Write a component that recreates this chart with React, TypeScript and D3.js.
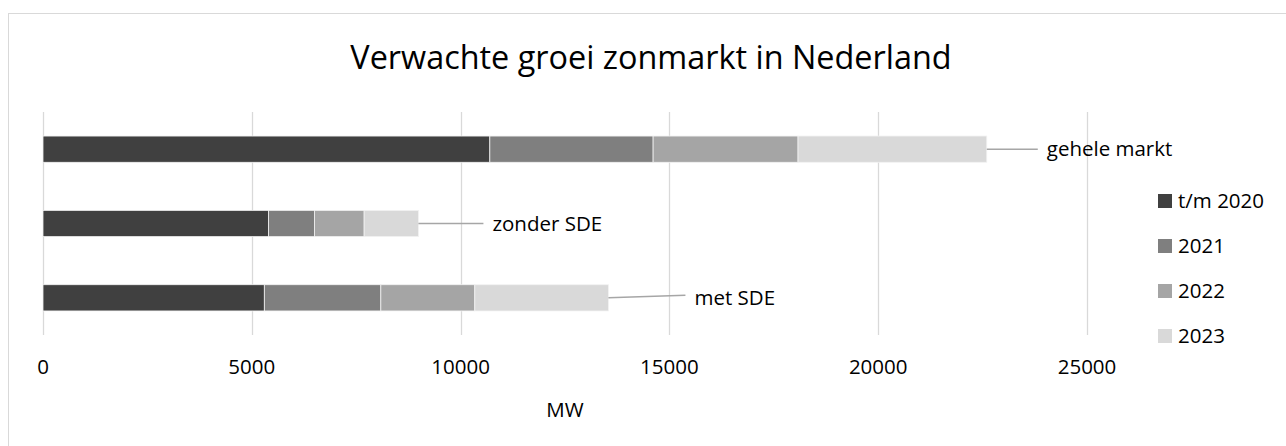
import * as d3 from "d3";
import React from "react";

// categories top to bottom
const categories = ["gehele markt", "zonder SDE", "met SDE"];
const seriesNames = ["t/m 2020", "2021", "2022", "2023"];

// MW added per period, per category
const tm2020 = [10700, 5400, 5300];
const y2021 = [3910, 1100, 2790];
const y2022 = [3470, 1190, 2250];
const y2023 = [4520, 1300, 3200];

const xTicks = [0, 5000, 10000, 15000, 20000, 25000];
const colors = ["#404040", "#7f7f7f", "#a5a5a5", "#d9d9d9"];

// distance of the manual data label from the bar end (px)
const labelGap = [60, 74, 86];

const W = 1286;
const H = 446;
const font = "'Open Sans', 'Liberation Sans', sans-serif";

const App = () => {
  const plot = { left: 43, right: 1087, top: 112, bottom: 335 };

  const x = d3.scaleLinear().domain([0, 25000]).range([plot.left, plot.right]);
  const y = d3
    .scaleBand()
    .domain(categories)
    .range([plot.top, plot.bottom])
    .paddingInner(0.647)
    .paddingOuter(0.3235);

  const rows = categories.map((c, i) => ({
    cat: c,
    "t/m 2020": tm2020[i],
    "2021": y2021[i],
    "2022": y2022[i],
    "2023": y2023[i],
  }));
  const stacked = d3.stack().keys(seriesNames)(rows);

  const totals = categories.map((_, i) => tm2020[i] + y2021[i] + y2022[i] + y2023[i]);

  return (
    <div style={{ position: "fixed", left: 0, top: 0 }}>
      <svg width={W} height={H} style={{ display: "block" }}>
        <rect x={0} y={0} width={W} height={H} fill="#fff" />
        <rect x={8.5} y={13.5} width={1290} height={450} fill="#fff" stroke="#d9d9d9" strokeWidth={1} />

        <text
          x={651}
          y={69}
          textAnchor="middle"
          fontFamily={font}
          fontSize={32.4}
          fill="#000"
        >
          Verwachte groei zonmarkt in Nederland
        </text>

        {/* vertical gridlines */}
        {xTicks.map((t) => (
          <line
            key={t}
            x1={Math.round(x(t)) + 0.5}
            x2={Math.round(x(t)) + 0.5}
            y1={plot.top}
            y2={plot.bottom}
            stroke="#d9d9d9"
            strokeWidth={1.3}
          />
        ))}

        {/* stacked bars */}
        {stacked.map((s, si) => (
          <g key={s.key} fill={colors[si]}>
            {s.map((d, i) => (
              <rect
                key={i}
                x={x(d[0])}
                y={y(categories[i])}
                width={x(d[1]) - x(d[0])}
                height={y.bandwidth()}
                stroke="#f2f2f2"
                strokeWidth={0.8}
              />
            ))}
          </g>
        ))}

        {/* data labels with leader lines */}
        {categories.map((c, i) => {
          const x0 = x(totals[i]);
          const cy = y(c) + y.bandwidth() / 2;
          return (
            <g key={c}>
              <line
                x1={x0}
                x2={x0 + labelGap[i] - 9}
                y1={cy}
                y2={i === 2 ? cy - 2.5 : cy}
                stroke="#a6a6a6"
                strokeWidth={1.5}
              />
              <text
                x={x0 + labelGap[i]}
                y={cy + 7.3}
                fontFamily={font}
                fontSize={20.5}
                fill="#000"
              >
                {c}
              </text>
            </g>
          );
        })}

        {/* x tick labels */}
        {xTicks.map((t) => (
          <text
            key={t}
            x={x(t)}
            y={374}
            textAnchor="middle"
            fontFamily={font}
            fontSize={20.5}
            fill="#000"
          >
            {t}
          </text>
        ))}

        <text
          x={(plot.left + plot.right) / 2}
          y={417}
          textAnchor="middle"
          fontFamily={font}
          fontSize={20.5}
          fill="#000"
        >
          MW
        </text>

        {/* legend */}
        {seriesNames.map((n, i) => {
          const cy = 201 + i * 45;
          return (
            <g key={n}>
              <rect x={1158} y={cy - 7} width={14} height={14} fill={colors[i]} />
              <text x={1178} y={cy + 7.3} fontFamily={font} fontSize={20.5} fill="#000">
                {n}
              </text>
            </g>
          );
        })}
      </svg>
    </div>
  );
};

export default App;
